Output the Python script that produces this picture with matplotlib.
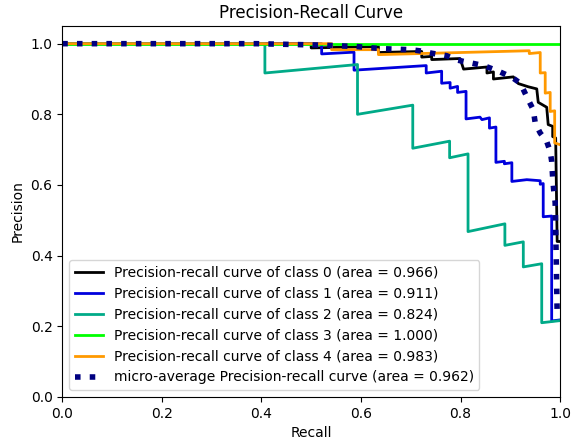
import matplotlib
matplotlib.use("Agg")
import matplotlib.pyplot as plt

# values
classes = [0, 1, 2, 3, 4]
areas = [0.966, 0.911, 0.824, 1.000, 0.983]
micro_area = 0.962

recall_0 = [0.0, 0.50, 0.50, 0.635, 0.635, 0.722, 0.722, 0.742, 0.742, 0.799, 0.806,
            0.853, 0.853, 0.866, 0.866, 0.906, 0.916, 0.936, 0.953, 0.956, 0.973, 0.976,
            0.985, 0.985, 0.991, 0.994, 1.0]
precision_0 = [1.0, 1.0, 0.988, 0.992, 0.975, 0.978, 0.962, 0.964, 0.955, 0.958, 0.928,
               0.934, 0.917, 0.920, 0.900, 0.906, 0.887, 0.878, 0.872, 0.834, 0.820, 0.771,
               0.766, 0.737, 0.733, 0.44, 0.44]

recall_1 = [0.0, 0.521, 0.521, 0.586, 0.586, 0.731, 0.731, 0.762, 0.762, 0.779, 0.779,
            0.794, 0.794, 0.811, 0.811, 0.839, 0.843, 0.858, 0.858, 0.871, 0.871, 0.888,
            0.888, 0.903, 0.903, 0.933, 0.960, 0.960, 0.966, 0.966, 0.983, 0.983, 1.0]
precision_1 = [1.0, 1.0, 0.971, 0.976, 0.925, 0.938, 0.917, 0.922, 0.888, 0.890, 0.874,
               0.879, 0.862, 0.865, 0.787, 0.792, 0.785, 0.790, 0.761, 0.764, 0.664, 0.667,
               0.660, 0.663, 0.610, 0.615, 0.612, 0.602, 0.604, 0.510, 0.512, 0.215, 0.218]

recall_2 = [0.0, 0.407, 0.407, 0.593, 0.593, 0.704, 0.704, 0.778, 0.778, 0.815, 0.815,
            0.889, 0.889, 0.926, 0.926, 0.963, 0.963, 1.0]
precision_2 = [1.0, 1.0, 0.917, 0.941, 0.800, 0.826, 0.704, 0.724, 0.677, 0.688, 0.468,
               0.490, 0.429, 0.439, 0.368, 0.377, 0.210, 0.216]

recall_3 = [0.0, 1.0]
precision_3 = [1.0, 1.0]

recall_4 = [0.0, 0.541, 0.541, 0.635, 0.635, 0.938, 0.938, 0.960, 0.960, 0.970, 0.970,
            0.980, 0.980, 0.989, 0.989, 1.0]
precision_4 = [1.0, 1.0, 0.983, 0.983, 0.969, 0.980, 0.972, 0.975, 0.917, 0.918, 0.860,
               0.862, 0.808, 0.810, 0.719, 0.714]

recall_micro = [0.0, 0.39, 0.52, 0.59, 0.64, 0.70, 0.722, 0.742, 0.772, 0.792, 0.819,
                0.846, 0.873, 0.903, 0.920, 0.936, 0.946, 0.950, 0.960, 0.973, 0.980,
                0.983, 0.985, 0.987, 0.990, 0.992, 0.994]
precision_micro = [1.0, 1.0, 0.996, 0.992, 0.986, 0.983, 0.979, 0.973, 0.966, 0.954, 0.946,
                   0.938, 0.924, 0.905, 0.888, 0.841, 0.813, 0.775, 0.747, 0.723, 0.695,
                   0.667, 0.620, 0.586, 0.550, 0.40, 0.235]

recalls = [recall_0, recall_1, recall_2, recall_3, recall_4]
precisions = [precision_0, precision_1, precision_2, precision_3, precision_4]

fig, ax = plt.subplots(figsize=(5.71, 4.41), dpi=100)
fig.subplots_adjust(left=0.109, right=0.981, bottom=0.100, top=0.941)

for i, c in enumerate(classes):
    color = plt.cm.nipy_spectral(float(i) / len(classes))
    ax.plot(recalls[i], precisions[i], lw=2, color=color,
            label="Precision-recall curve of class {0} (area = {1:0.3f})".format(c, areas[i]))

ax.plot(recall_micro, precision_micro, color="navy", linestyle=":", linewidth=4,
        label="micro-average Precision-recall curve (area = {0:0.3f})".format(micro_area))

ax.set_xlim([0.0, 1.0])
ax.set_ylim([0.0, 1.05])
ax.set_xlabel("Recall", fontsize="medium")
ax.set_ylabel("Precision", fontsize="medium")
ax.set_title("Precision-Recall Curve", fontsize="large")
ax.tick_params(labelsize="medium")
ax.legend(loc="lower left", fontsize="medium")

fig.savefig("out.png", dpi=100)
